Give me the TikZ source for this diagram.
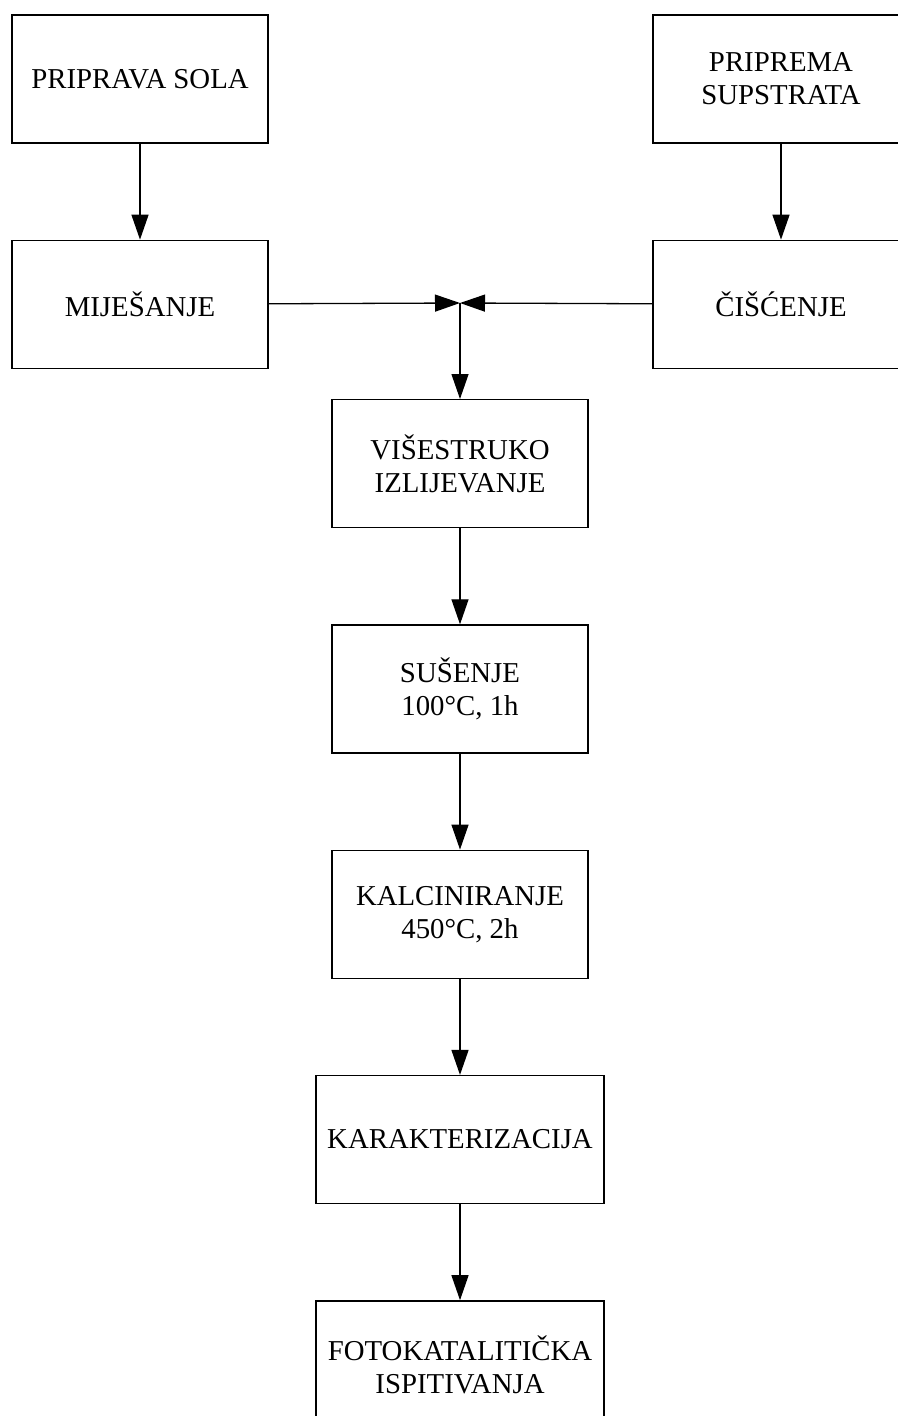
\documentclass[tikz,border=0pt]{standalone}
\usepackage{fontspec}
\setmainfont{Liberation Serif}
\usetikzlibrary{positioning}
\usetikzlibrary{arrows.meta}
\tikzset{
        stepnode/.style={align=center,inner sep=0pt,font=\fontsize{28.8bp}{33bp}\selectfont},
        % Process steps
        stepbox/.style={stepnode, rectangle, draw=black, minimum width=256bp, minimum height=128bp},
        % Wider steps at the end
        stepbox_wide/.style={stepbox, minimum width=288bp}
}
\begin{document}
\begin{tikzpicture}[
            ->,
            >={Triangle[length=25bp,width=17bp]},
            line width=1.3bp,
            node distance=96bp
        ]
            \clip[-] (0,0) rectangle (898bp,-1416bp);
            % left branch
            \node[stepbox] (sola) at (140bp,-79bp) {PRIPRAVA SOLA};
            \node[stepbox, below=of sola] (mijesanje) {MIJEŠANJE};
            % right branch
            \node[stepbox] (supstrat) at (781bp,-79bp) {PRIPREMA\\SUPSTRATA};
            \node[stepbox, below=of supstrat] (ciscenje) {ČIŠĆENJE};
            \coordinate (spoj) at (460bp,-303bp);
            % main line
            \node[stepbox, below=of spoj] (izlijevanje) {VIŠESTRUKO\\IZLIJEVANJE};
            \node[stepbox, below=of izlijevanje] (susenje) {SUŠENJE\\100°C, 1h};
            \node[stepbox, below=of susenje] (kalciniranje) {KALCINIRANJE\\450°C, 2h};
            \node[stepbox_wide, below=of kalciniranje] (karakterizacija) {KARAKTERIZACIJA};
            \node[stepbox_wide, below=of karakterizacija] (ispitivanja) {FOTOKATALITIČKA\\ISPITIVANJA};

            \draw (sola) -- (mijesanje);
            \draw (supstrat) -- (ciscenje);
            \draw (mijesanje) -- (spoj);
            \draw (ciscenje) -- (spoj);
            \draw (spoj) -- (izlijevanje);
            \draw (izlijevanje) -- (susenje);
            \draw (susenje) -- (kalciniranje);
            \draw (kalciniranje) -- (karakterizacija);
            \draw (karakterizacija) -- (ispitivanja);
        \end{tikzpicture}
\end{document}
